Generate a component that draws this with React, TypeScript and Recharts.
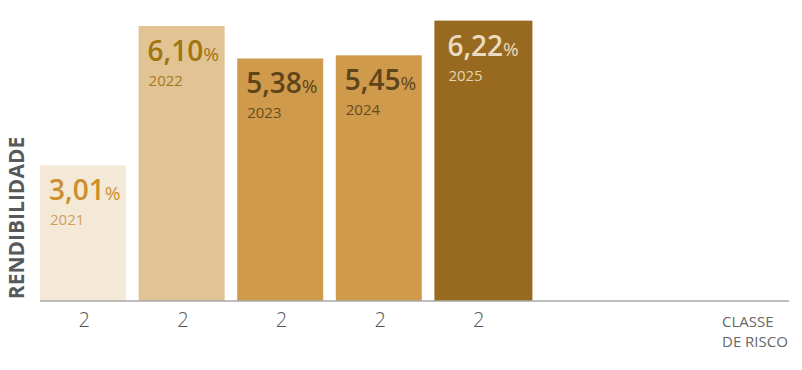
import { BarChart, Bar, XAxis, YAxis, Cell, LabelList } from 'recharts';

const years = ['2021', '2022', '2023', '2024', '2025'];
const returns = [3.01, 6.1, 5.38, 5.45, 6.22];
const riskClass = ['2', '2', '2', '2', '2'];

const data = years.map((year, i) => ({ year, value: returns[i], risk: riskClass[i] }));

const barColors = ['#F4E8D6', '#E2C394', '#CF9A4C', '#CF9A4C', '#976A1F'];
const valueColors = ['#CC8F2E', '#A0750F', '#5E4518', '#5E4518', '#EADBC0'];
const yearColors = ['#CFA15A', '#A07A22', '#6A4C1C', '#6A4C1C', '#E6D3B2'];

const SHIFT = -6;

const BarShape = (props: any) => {
    const { x, y, width, height, index } = props;
    const w = index === 4 ? width + 12 : width;
    return <rect x={x + SHIFT} y={y} width={w} height={height} fill={barColors[index]} />;
};

const BarLabel = (props: any) => {
    const { x, y, index, value } = props;
    const left = x + SHIFT + (index === 4 ? 13 : 9);
    const txt = value.toFixed(2).replace('.', ',');
    return (
        <g fontFamily="'Open Sans', sans-serif">
            <text x={left} y={y + 35} fill={valueColors[index]} fontSize={28} fontWeight={600}>
                {txt}
                <tspan fontSize={19} fontWeight={400}>%</tspan>
            </text>
            <text x={left + 1} y={y + 60} fill={yearColors[index]} fontSize={15}>
                {years[index]}
            </text>
        </g>
    );
};

const RiskTick = (props: any) => {
    const { x, y, index } = props;
    return (
        <text x={x + SHIFT + 1} y={y + 18} textAnchor="middle" fill="#555" fontSize={20}
            fontFamily="'Open Sans', sans-serif" fontWeight={300}>
            {riskClass[index]}
        </text>
    );
};

export default function App() {
    return (
        <div style={{ position: 'fixed', left: 0, top: 0, width: 802, height: 370, background: '#fff' }}>
            <BarChart width={802} height={370} data={data} margin={{ top: 8, right: 13, left: 40, bottom: 39 }}>
                <XAxis
                    dataKey="year"
                    height={30}
                    padding={{ left: 0, right: 256 }}
                    axisLine={{ stroke: '#A8A8A8', strokeWidth: 1.5 }}
                    tickLine={false}
                    tick={<RiskTick />}
                    interval={0}
                />
                <YAxis hide domain={[0, 6.5]} />
                <Bar dataKey="value" barSize={86} shape={<BarShape />} isAnimationActive={false}>
                    {data.map((d, i) => (
                        <Cell key={d.year} fill={barColors[i]} />
                    ))}
                    <LabelList dataKey="value" content={<BarLabel />} />
                </Bar>
            </BarChart>
            <div
                style={{
                    position: 'absolute',
                    left: 16,
                    top: 218,
                    transform: 'translate(-50%, -50%) rotate(-90deg)',
                    fontFamily: "'Open Sans', sans-serif",
                    fontWeight: 700,
                    fontSize: 21,
                    color: '#58595B',
                    whiteSpace: 'nowrap',
                }}
            >
                RENDIBILIDADE
            </div>
            <div
                style={{
                    position: 'absolute',
                    left: 722,
                    top: 311,
                    fontFamily: "'Open Sans', sans-serif",
                    fontSize: 15,
                    lineHeight: '20px',
                    color: '#666',
                }}
            >
                CLASSE
                <br />
                DE RISCO
            </div>
        </div>
    );
}
